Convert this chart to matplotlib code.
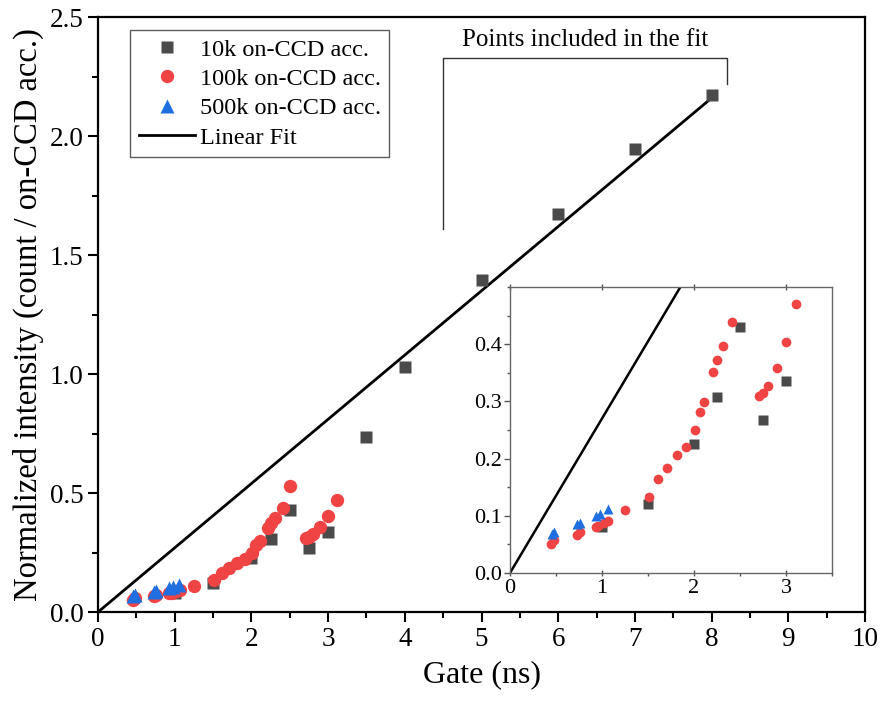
import matplotlib
matplotlib.use("Agg")

import matplotlib.pyplot as plt
from matplotlib.ticker import MultipleLocator, FormatStrFormatter

# 10k on-CCD accumulations
gate_10k = [1.0, 1.5, 2.0, 2.25, 2.5, 2.75, 3.0, 3.5, 4.0, 5.0, 6.0, 7.0, 8.0]
int_10k = [0.080, 0.121, 0.226, 0.307, 0.430, 0.268, 0.336, 0.735, 1.029, 1.395, 1.672, 1.945, 2.172]

# 100k on-CCD accumulations
gate_100k = [0.45, 0.48, 0.73, 0.76, 0.93, 0.96, 1.02, 1.07, 1.25, 1.51, 1.61, 1.71,
             1.81, 1.91, 2.01, 2.06, 2.11, 2.21, 2.25, 2.31, 2.41, 2.50, 2.71, 2.75,
             2.80, 2.90, 3.00, 3.11]
int_100k = [0.051, 0.057, 0.066, 0.071, 0.081, 0.082, 0.087, 0.091, 0.110, 0.133, 0.164, 0.184,
            0.206, 0.221, 0.250, 0.281, 0.299, 0.352, 0.373, 0.397, 0.439, 0.529, 0.310, 0.315,
            0.327, 0.358, 0.404, 0.470]

# 500k on-CCD accumulations
gate_500k = [0.46, 0.48, 0.73, 0.76, 0.93, 0.98, 1.06]
int_500k = [0.068, 0.072, 0.085, 0.088, 0.099, 0.104, 0.112]

# linear fit (through origin)
fit_x = [0.0, 8.0]
fit_y = [0.0, 2.16]

SQ_COLOR = "#4A4A4A"
RED = "#F04343"
BLUE = "#1F6FE0"

plt.rcParams.update({
    "font.family": ["Liberation Serif", "DejaVu Serif"],
    "mathtext.fontset": "stix",
})


def draw_series(ax, ms_sq, ms_ci, ms_tr, lw):
    ax.plot(gate_10k, int_10k, "s", color=SQ_COLOR, ms=ms_sq, mec="none",
            label="10k on-CCD acc.", zorder=3)
    ax.plot(gate_100k, int_100k, "o", color=RED, ms=ms_ci, mec="none",
            label="100k on-CCD acc.", zorder=4)
    ax.plot(gate_500k, int_500k, "^", color=BLUE, ms=ms_tr, mec="none",
            label="500k on-CCD acc.", zorder=5)
    ax.plot(fit_x, fit_y, "-", color="black", lw=lw, label="Linear Fit", zorder=2)


fig = plt.figure(figsize=(8.8, 7.11), dpi=100)
ax = fig.add_axes([0.1114, 0.1392, 0.8716, 0.8368])

draw_series(ax, 8.6, 9.6, 9.6, 2.0)

ax.set_xlim(0, 10)
ax.set_ylim(0, 2.5)
ax.xaxis.set_major_locator(MultipleLocator(1))
ax.xaxis.set_minor_locator(MultipleLocator(0.5))
ax.yaxis.set_major_locator(MultipleLocator(0.5))
ax.yaxis.set_minor_locator(MultipleLocator(0.25))
ax.yaxis.set_major_formatter(FormatStrFormatter("%.1f"))
ax.tick_params(which="both", direction="out", width=1.5, labelsize=19.5,
               top=False, right=False)
ax.tick_params(which="major", length=7)
ax.tick_params(which="minor", length=4)
for sp in ax.spines.values():
    sp.set_linewidth(1.6)

ax.set_xlabel("Gate (ns)", fontsize=23, labelpad=6)
ax.set_ylabel("Normalized intensity (count / on-CCD acc.)", fontsize=23.5, labelpad=4)

leg = ax.legend(loc="upper left", bbox_to_anchor=(0.042, 0.978), fontsize=17.5,
                frameon=True, fancybox=False, handlelength=2.3,
                handletextpad=0.2, borderpad=0.35, labelspacing=0.3,
                borderaxespad=0.0)
leg.get_frame().set_edgecolor("#333333")
leg.get_frame().set_linewidth(1.0)

# bracket marking the fitted points
br_x = [4.5, 4.5, 8.2, 8.2]
br_y = [1.61, 2.328, 2.328, 2.22]
ax.plot(br_x, br_y, "-", color="#333333", lw=1.0, zorder=1)
ax.text(6.35, 2.405, "Points included in the fit", ha="center", va="center",
        fontsize=18)

# inset
axin = fig.add_axes([0.5795, 0.1941, 0.366, 0.4022])
draw_series(axin, 6.5, 7.0, 7.5, 1.8)
axin.set_xlim(0, 3.5)
axin.set_ylim(0, 0.5)
axin.xaxis.set_major_locator(MultipleLocator(1))
axin.xaxis.set_minor_locator(MultipleLocator(0.5))
axin.yaxis.set_major_locator(MultipleLocator(0.1))
axin.yaxis.set_minor_locator(MultipleLocator(0.05))
axin.yaxis.set_major_formatter(FormatStrFormatter("%.1f"))
axin.set_yticks([0.0, 0.1, 0.2, 0.3, 0.4])
axin.tick_params(which="both", direction="out", width=1.0, labelsize=16,
                 color="#555555", pad=2)
axin.tick_params(which="major", length=4)
axin.tick_params(which="minor", length=2.5)
axin.tick_params(which="major", top=True, direction="inout", axis="x")
for sp in axin.spines.values():
    sp.set_linewidth(1.0)
    sp.set_color("#666666")

fig.savefig("out.png", dpi=100)
